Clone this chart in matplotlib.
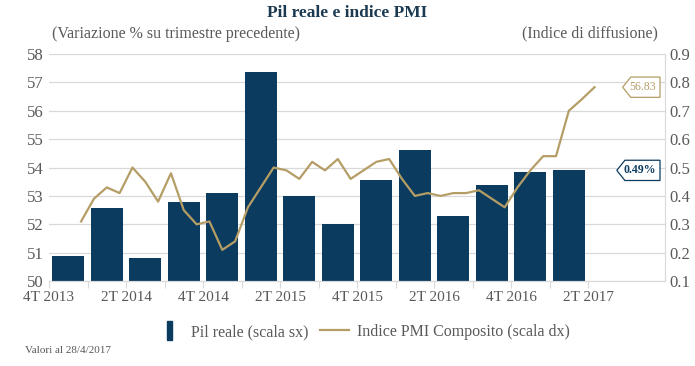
import matplotlib
matplotlib.use('Agg')
import matplotlib.pyplot as plt
import matplotlib.patches as mpatches
from matplotlib.path import Path
from matplotlib.legend_handler import HandlerPatch
from matplotlib.lines import Line2D

plt.rcParams['font.family'] = ['Liberation Serif', 'DejaVu Serif']

# GDP q/q (%) per quarter, 4T 2013 .. 1T 2017 (right scale)
quarters = ['4T 2013', '1T 2014', '2T 2014', '3T 2014', '4T 2014', '1T 2015', '2T 2015',
            '3T 2015', '4T 2015', '1T 2016', '2T 2016', '3T 2016', '4T 2016', '1T 2017']
pil = [0.19, 0.357, 0.18, 0.38, 0.41, 0.836, 0.40, 0.30, 0.455, 0.563, 0.33, 0.437, 0.485, 0.49]

# monthly composite PMI, Dec 2013 .. Apr 2017 (left scale)
pmi = [52.1,
       52.9, 53.3, 53.1, 54.0, 53.5, 52.8, 53.8, 52.5, 52.0, 52.1, 51.1, 51.4,
       52.6, 53.3, 54.0, 53.9, 53.6, 54.2, 53.9, 54.3, 53.6, 53.9, 54.2, 54.3,
       53.6, 53.0, 53.1, 53.0, 53.1, 53.1, 53.2, 52.9, 52.6, 53.3, 53.9, 54.4,
       54.4, 56.0, 56.4, 56.83]
pmi_start = 2  # month index of first PMI value (Oct 2013 = 0)

tick_labels = ['4T 2013', '2T 2014', '4T 2014', '2T 2015', '4T 2015', '2T 2016', '4T 2016', '2T 2017']

navy = '#0B3B5E'
gold = '#B59D66'
grey = '#595959'

fig = plt.figure(figsize=(6.95, 3.66), dpi=100)
ax = fig.add_axes([0.0705, 0.232, 0.8865, 0.6205])
ax2 = ax.twinx()

# bars on the right axis (drawn below the line axis)
bar_x = [3 * i + 1.5 for i in range(len(pil))]
ax2.bar(bar_x, pil, width=2.5, color=navy, zorder=2)
ax2.set_ylim(0.1, 0.9)
ax2.set_yticks([0.1 + 0.1 * i for i in range(9)])
ax2.set_yticklabels(['%.1f' % (0.1 + 0.1 * i) for i in range(9)])
ax2.yaxis.grid(True, color='#D9D9D9', linewidth=0.9)
ax2.set_axisbelow(True)

pmi_x = [pmi_start + i + 0.5 for i in range(len(pmi))]
ax.plot(pmi_x, pmi, color=gold, linewidth=1.6, zorder=3)
ax.set_ylim(50, 58)
ax.set_yticks(range(50, 59))
ax.set_zorder(ax2.get_zorder() + 1)
ax.patch.set_visible(False)

ax.set_xlim(0, 48)
ax.set_xticks(range(0, 43, 3))
ax.set_xticklabels([tick_labels[i // 2] if i % 2 == 0 else '' for i in range(15)])

for a in (ax, ax2):
    for s in ('top', 'left', 'right'):
        a.spines[s].set_visible(False)
    a.spines['bottom'].set_color('#D9D9D9')
ax2.spines['right'].set_visible(True)
ax2.spines['right'].set_color('#D9D9D9')

ax.tick_params(axis='y', length=0, labelsize=12, labelcolor=grey, pad=4)
ax2.tick_params(axis='y', length=0, labelsize=12, labelcolor=grey, pad=3)
ax.tick_params(axis='x', length=5, color='#D9D9D9', labelsize=11, labelcolor=grey, pad=2)


def tag_box(x0, y0, width, height, mutation_size):
    pad = 0.35 * mutation_size
    x0, y0 = x0 - pad, y0 - pad
    x1, y1 = x0 + width + 2 * pad, y0 + height + 2 * pad
    tip = 0.4 * (y1 - y0)
    ym = (y0 + y1) / 2
    verts = [(x0 - tip * 0.3, ym), (x0 + tip * 0.7, y1), (x1, y1), (x1, y0), (x0 + tip * 0.7, y0), (x0, ym)]
    codes = [Path.MOVETO] + [Path.LINETO] * 4 + [Path.CLOSEPOLY]
    return Path(verts, codes)


ax.annotate('56.83', xy=(0.985, 56.83), xycoords=('axes fraction', 'data'),
            ha='right', va='center', fontsize=8.5, color=gold,
            bbox=dict(boxstyle=tag_box, fc='white', ec=gold, lw=0.9))
ax2.annotate('0.49%', xy=(0.985, 0.49), xycoords=('axes fraction', 'data'),
             ha='right', va='center', fontsize=8.5, color=navy, fontweight='bold',
             bbox=dict(boxstyle=tag_box, fc='white', ec=navy, lw=0.9))

fig.text(0.5, 0.965, 'Pil reale e indice PMI', ha='center', va='center',
         fontsize=12.5, fontweight='bold', color='#1B3A52')
fig.text(0.075, 0.908, '(Variazione % su trimestre precedente)', ha='left', va='center',
         fontsize=11.5, color=grey)
fig.text(0.946, 0.908, '(Indice di diffusione)', ha='right', va='center',
         fontsize=11.5, color=grey)
fig.text(0.036, 0.043, 'Valori al 28/4/2017', ha='left', va='center', fontsize=8, color=grey)


def narrow_bar(legend, orig_handle, xdescent, ydescent, width, height, fontsize):
    return mpatches.Rectangle((-xdescent + width * 0.42, -ydescent - 3), width * 0.2, height + 6)


bar_handle = mpatches.Rectangle((0, 0), 1, 1, color=navy)
line_handle = Line2D([], [], color=gold, linewidth=1.6)
fig.legend([bar_handle, line_handle], ['Pil reale (scala sx)', 'Indice PMI Composito (scala dx)'],
           loc='center', bbox_to_anchor=(362 / 695, 1 - 332 / 366), ncol=2, frameon=False,
           fontsize=11.5, handlelength=1.8, handletextpad=0.5, columnspacing=0.7,
           labelcolor=grey, handler_map={mpatches.Rectangle: HandlerPatch(patch_func=narrow_bar)})

fig.savefig('out.png', dpi=100)
